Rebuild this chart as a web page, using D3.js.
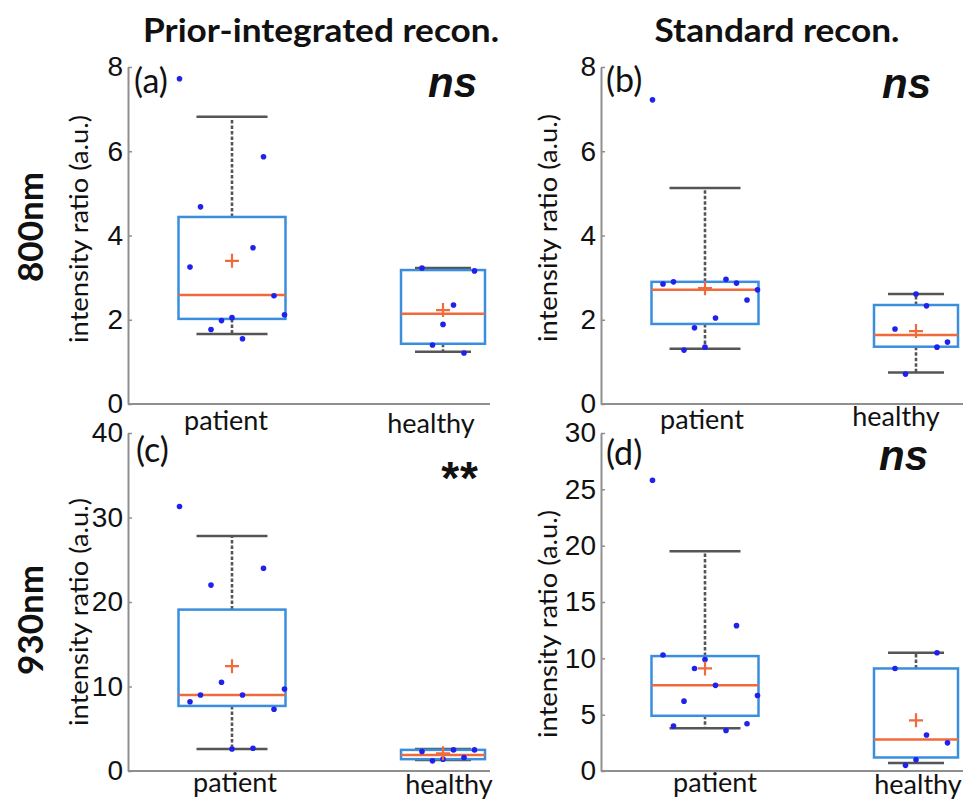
<!DOCTYPE html>
<html>
<head>
<meta charset="utf-8">
<script src="https://cdn.jsdelivr.net/npm/d3@7"></script>
<style>
  body { margin: 0; background: #fff; }
  svg { display: block; }
</style>
</head>
<body>
<div id="chart"></div>
<script>
var width = 963,
    height = 801;

// categories
var groups = ["patient", "healthy"];

// individual values, listed left to right in their jitter slot
var a_patient = [7.72, 3.25, 4.68, 1.77, 1.98, 2.05, 1.55, 3.71, 5.87, 2.57, 2.12];
var a_healthy = [3.23, 1.40, 1.89, 2.35, 1.21, 3.16];
var b_patient = [7.22, 2.85, 2.90, 1.28, 1.81, 1.35, 2.04, 2.96, 2.87, 2.47, 2.71];
var b_healthy = [1.78, 0.71, 2.61, 2.33, 1.35, 1.47];
var c_patient = [31.3, 8.2, 9.0, 22.0, 10.5, 2.6, 9.0, 2.7, 24.0, 7.3, 9.7];
var c_healthy = [2.3, 1.2, 1.4, 2.5, 1.6, 2.5];
var d_patient = [25.8, 10.3, 4.0, 6.2, 9.1, 9.9, 7.6, 3.6, 12.9, 4.2, 6.7];
var d_healthy = [9.1, 0.5, 1.0, 3.2, 10.5, 2.5];

// box stats : [whisker low, q1, median, q3, whisker high, mean]
var a_patient_box = [1.66, 2.02, 2.59, 4.44, 6.82, 3.40];
var a_healthy_box = [1.24, 1.43, 2.14, 3.18, 3.23, 2.23];
var b_patient_box = [1.31, 1.90, 2.71, 2.90, 5.13, 2.75];
var b_healthy_box = [0.75, 1.36, 1.64, 2.35, 2.61, 1.73];
var c_patient_box = [2.6, 7.7, 9.0, 19.1, 27.8, 12.4];
var c_healthy_box = [1.3, 1.4, 1.9, 2.5, 2.6, 2.1];
var d_patient_box = [3.8, 4.9, 7.6, 10.2, 19.5, 9.1];
var d_healthy_box = [0.7, 1.2, 2.8, 9.1, 10.5, 4.5];

// y ticks
var ticks_800 = [0, 2, 4, 6, 8];
var ticks_930a = [0, 10, 20, 30, 40];
var ticks_930b = [0, 5, 10, 15, 20, 25, 30];

var colTitles = ["Prior-integrated recon.", "Standard recon."];
var rowTitles = ["800nm", "930nm"];
var yLabel = "intensity ratio (a.u.)";

var panels = [
  { tag: "(a)", sig: "ns", ymax: 8, ticks: ticks_800, pts: [a_patient, a_healthy], box: [a_patient_box, a_healthy_box],
    x0: 128, x1: 490, yTop: 67, yBot: 404, labDx: [-6, -12], labY: [430, 433],
    tagPos: [134, 93], sigPos: [477, 97], ylabX: 88, ylabY: 229 },
  { tag: "(b)", sig: "ns", ymax: 8, ticks: ticks_800, pts: [b_patient, b_healthy], box: [b_patient_box, b_healthy_box],
    x0: 601, x1: 963, yTop: 67, yBot: 404, labDx: [-3, -20], labY: [429, 426],
    tagPos: [606, 92], sigPos: [931, 98], ylabX: 557, ylabY: 228 },
  { tag: "(c)", sig: "**", ymax: 40, ticks: ticks_930a, pts: [c_patient, c_healthy], box: [c_patient_box, c_healthy_box],
    x0: 128, x1: 490, yTop: 433, yBot: 771, labDx: [3, 6], labY: [792, 794],
    tagPos: [136, 462], sigPos: [479, 494], ylabX: 88, ylabY: 612 },
  { tag: "(d)", sig: "ns", ymax: 30, ticks: ticks_930b, pts: [d_patient, d_healthy], box: [d_patient_box, d_healthy_box],
    x0: 601, x1: 963, yTop: 433, yBot: 771, labDx: [10, 2], labY: [792, 794],
    tagPos: [606, 465], sigPos: [928, 470], ylabX: 557, ylabY: 624 }
];

var boxHalf = { patient: 53.5, healthy: 42 },
    capHalf = { patient: 35.5, healthy: 28 },
    firstSlot = { patient: -5, healthy: -2 },
    slotStep = 10.5;

var axisGray = "#8f8f8f",
    whiskGray = "#555555",
    boxBlue = "#3a8ede",
    medOrange = "#f06b3c",
    dotBlue = "#2121ee";

var svg = d3.select("#chart")
  .append("svg")
  .attr("width", width)
  .attr("height", height);

svg.append("rect").attr("width", width).attr("height", height).attr("fill", "#fff");

// column titles
svg.selectAll("text.coltitle")
  .data(colTitles)
  .enter()
  .append("text")
  .attr("class", "coltitle")
  .attr("x", (d, i) => i == 0 ? 321 : 777)
  .attr("y", 42)
  .attr("text-anchor", "middle")
  .attr("textLength", (d, i) => i == 0 ? 356 : 245)
  .attr("lengthAdjust", "spacingAndGlyphs")
  .style("font-family", "Lato, 'Open Sans', sans-serif")
  .style("font-weight", "bold")
  .style("font-size", "33px")
  .attr("fill", "#111")
  .text(d => d);

// row titles
svg.selectAll("text.rowtitle")
  .data(rowTitles)
  .enter()
  .append("text")
  .attr("class", "rowtitle")
  .attr("transform", (d, i) => "translate(43," + (i == 0 ? 227 : 620) + ") rotate(-90)")
  .attr("text-anchor", "middle")
  .style("font-family", "Lato, 'Open Sans', sans-serif")
  .style("font-weight", "bold")
  .style("font-size", "35px")
  .attr("fill", "#111")
  .text(d => d);

panels.forEach(function (p) {
  var g = svg.append("g");

  var y = d3.scaleLinear().domain([0, p.ymax]).range([p.yBot, p.yTop]);
  var x = d3.scalePoint().domain(groups).range([p.x0 + 104, p.x0 + 315]);

  // y axis, ticks pointing inward
  var yAxis = g.append("g")
    .attr("transform", "translate(" + p.x0 + ",0)")
    .call(d3.axisLeft(y).tickValues(p.ticks).tickSize(-4).tickSizeOuter(0).tickPadding(5));
  yAxis.select(".domain").attr("stroke", axisGray).attr("stroke-width", 2);
  yAxis.selectAll(".tick line").attr("stroke", axisGray).attr("stroke-width", 1.5);
  yAxis.selectAll(".tick text")
    .attr("fill", "#111")
    .style("font-family", "'Liberation Sans Narrow', 'Arial Narrow', sans-serif")
    .style("font-size", "28px");

  // x axis line
  g.append("line")
    .attr("x1", p.x0).attr("x2", p.x1)
    .attr("y1", p.yBot).attr("y2", p.yBot)
    .attr("stroke", axisGray).attr("stroke-width", 2);

  // category labels
  g.selectAll("text.cat")
    .data(groups)
    .enter()
    .append("text")
    .attr("class", "cat")
    .attr("x", (d, i) => x(d) + p.labDx[i])
    .attr("y", (d, i) => p.labY[i])
    .attr("text-anchor", "middle")
    .style("font-family", "Lato, 'Open Sans', sans-serif")
    .style("font-size", "27px")
    .attr("fill", "#111")
    .text(d => d);

  // y label
  g.append("text")
    .attr("transform", "translate(" + p.ylabX + "," + p.ylabY + ") rotate(-90)")
    .attr("text-anchor", "middle")
    .attr("textLength", 228)
    .attr("lengthAdjust", "spacingAndGlyphs")
    .style("font-family", "Lato, 'Open Sans', sans-serif")
    .style("font-size", "25px")
    .attr("fill", "#111")
    .text(yLabel);

  // boxes
  groups.forEach(function (grp, gi) {
    var s = p.box[gi];
    var cx = x(grp);
    var bg = g.append("g");

    // dashed whiskers
    bg.append("line")
      .attr("x1", cx).attr("x2", cx)
      .attr("y1", y(s[3])).attr("y2", y(s[4]))
      .attr("stroke", whiskGray).attr("stroke-width", 2.6).attr("stroke-dasharray", "3.5,2");
    bg.append("line")
      .attr("x1", cx).attr("x2", cx)
      .attr("y1", y(s[1])).attr("y2", y(s[0]))
      .attr("stroke", whiskGray).attr("stroke-width", 2.6).attr("stroke-dasharray", "3.5,2");

    // caps
    bg.selectAll("line.cap")
      .data([s[0], s[4]])
      .enter()
      .append("line")
      .attr("class", "cap")
      .attr("x1", cx - capHalf[grp]).attr("x2", cx + capHalf[grp])
      .attr("y1", d => y(d)).attr("y2", d => y(d))
      .attr("stroke", whiskGray).attr("stroke-width", 2.5);

    // box
    bg.append("rect")
      .attr("x", cx - boxHalf[grp])
      .attr("y", y(s[3]))
      .attr("width", boxHalf[grp] * 2)
      .attr("height", y(s[1]) - y(s[3]))
      .attr("fill", "none")
      .attr("stroke", boxBlue)
      .attr("stroke-width", 2.5);

    // median
    bg.append("line")
      .attr("x1", cx - boxHalf[grp]).attr("x2", cx + boxHalf[grp])
      .attr("y1", y(s[2])).attr("y2", y(s[2]))
      .attr("stroke", medOrange).attr("stroke-width", 2.5);

    // points
    bg.selectAll("circle")
      .data(p.pts[gi])
      .enter()
      .append("circle")
      .attr("cx", (d, i) => cx + (firstSlot[grp] + i) * slotStep)
      .attr("cy", d => y(d))
      .attr("r", 2.8)
      .attr("fill", dotBlue);

    // mean marker
    var my = y(s[5]);
    bg.append("path")
      .attr("d", "M" + (cx - 7) + "," + my + "H" + (cx + 7) + "M" + cx + "," + (my - 7) + "V" + (my + 7))
      .attr("stroke", medOrange)
      .attr("stroke-width", 2.2);
  });

  // panel tag
  g.append("text")
    .attr("x", p.tagPos[0]).attr("y", p.tagPos[1])
    .style("font-family", "Lato, 'Open Sans', sans-serif")
    .style("font-size", "34px")
    .attr("fill", "#111")
    .text(p.tag);

  // significance
  g.append("text")
    .attr("x", p.sigPos[0]).attr("y", p.sigPos[1])
    .attr("text-anchor", "end")
    .style("font-family", "'Liberation Sans', Arial, sans-serif")
    .style("font-weight", "bold")
    .style("font-style", p.sig == "ns" ? "italic" : "normal")
    .style("font-size", p.sig == "ns" ? "42px" : "46px")
    .style("letter-spacing", p.sig == "ns" ? "0px" : "1px")
    .attr("fill", "#111")
    .text(p.sig);
});
</script>
</body>
</html>
